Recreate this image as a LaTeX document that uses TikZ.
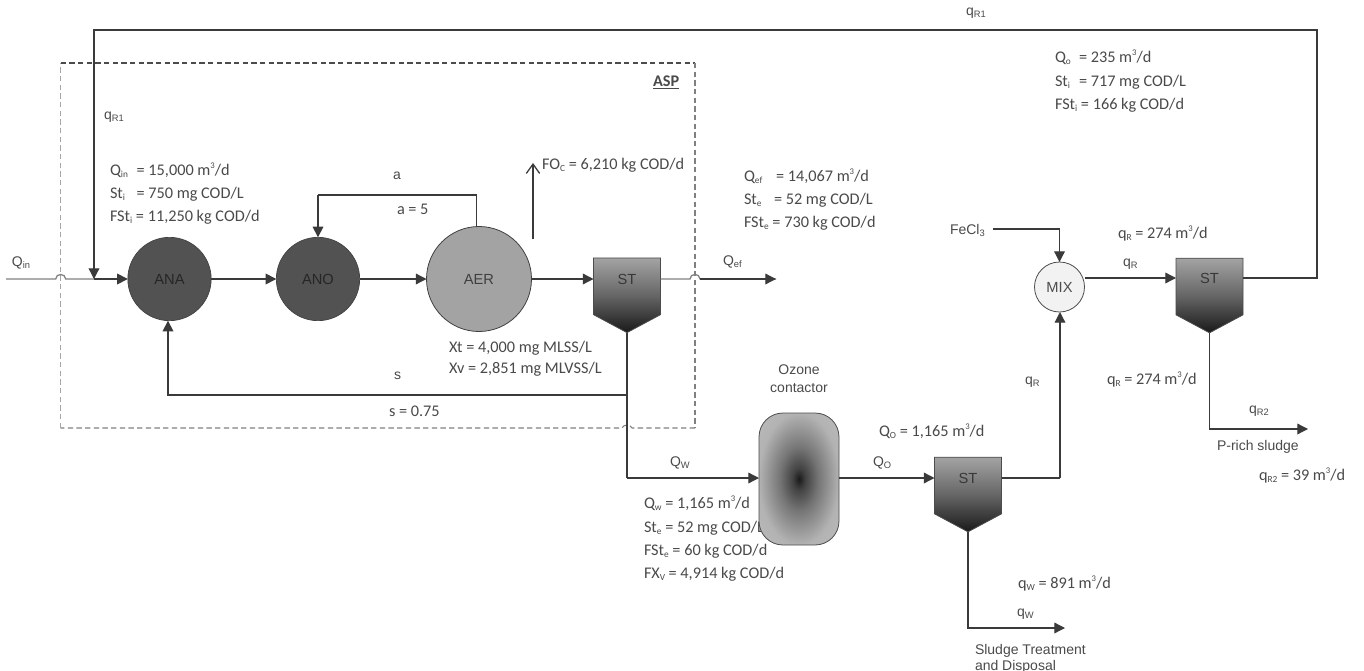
\documentclass[tikz,border=0pt]{standalone}
\usepackage{fontspec}
\setmainfont{Carlito}
\newfontfamily\arialf{Liberation Sans}
\usetikzlibrary{arrows.meta}
\definecolor{ink}{HTML}{3A3A3A}
\definecolor{txt}{HTML}{4A4A4A}
\newcommand{\dn}[1]{\raisebox{-0.3ex}{\fontsize{7}{7}\selectfont #1}}
\newcommand{\upp}[1]{\raisebox{0.85ex}{\fontsize{6.5}{6.5}\selectfont #1}}
\newcommand{\lab}[2]{\makebox[#1][l]{#2}}
\pgfdeclareradialshading{ozoneshade}{\pgfpointorigin}{%
  color(0bp)=(black!90); color(4bp)=(black!74); color(12bp)=(black!54); color(25bp)=(black!30); color(50bp)=(black!22)}
\tikzset{
  line/.style={draw=ink,line width=0.95pt},
  grayline/.style={draw=black!50,line width=0.95pt},
  flow/.style={line,-{Triangle[length=8pt,width=8pt]}},
  openflow/.style={line,-{Straight Barb[length=7pt,width=10pt]}},
  lbl/.style={anchor=base west,inner sep=0pt,outer sep=0pt,text=txt,font=\fontsize{12.2}{14}\selectfont},
  slbl/.style={anchor=base west,inner sep=0pt,outer sep=0pt,text=txt,font=\arialf\fontsize{10.5}{13}\selectfont},
  clbl/.style={slbl,anchor=base},
  ds/.style={anchor=base,inner sep=0pt,text=black!78,font=\arialf\fontsize{11}{13}\selectfont},
  tankdark/.style={circle,draw=black!75,line width=.5pt,fill=black!68,minimum size=62.5pt,inner sep=0pt,outer sep=0pt,text=black!85,font=\arialf\fontsize{11}{13}\selectfont},
  tankaer/.style={circle,draw=black!75,line width=.6pt,fill=black!36,minimum size=78.75pt,inner sep=0pt,outer sep=0pt,text=black!75,font=\arialf\fontsize{11}{13}\selectfont},
  tankmix/.style={circle,draw=black!70,line width=.6pt,fill=black!5,minimum size=37.5pt,inner sep=0pt,outer sep=0pt,text=black!70,font=\arialf\fontsize{11}{13}\selectfont},
  stbox/.style={rectangle,minimum width=50.25pt,minimum height=56pt,inner sep=0pt,outer sep=0pt},
  ozbox/.style={rectangle,minimum width=60pt,minimum height=99pt,inner sep=0pt,outer sep=0pt},
  stshade/.style={draw=black!70,line width=.6pt,top color=black!36,bottom color=black!90,middle color=black!60},
  dashdark/.style={draw=black!70,line width=.8pt,dash pattern=on 4pt off 2.5pt},
  dashlight/.style={draw=black!35,line width=.9pt,dash pattern=on 4pt off 2.5pt},
  dashmid/.style={draw=black!50,line width=.8pt,dash pattern=on 4pt off 2.5pt}
}
\newcommand{\settler}[1]{%
  \path[stshade] (#1.north west) -- (#1.north east) -- ([yshift=13.5pt]#1.south east) -- (#1.south) -- ([yshift=13.5pt]#1.south west) -- cycle;
}
\begin{document}
\begin{tikzpicture}[x=0.75pt,y=-0.75pt]
\useasboundingbox (0,0) rectangle (1364,671);
\fill[white] (0,0) rectangle (1364,671);

% ASP frame
\coordinate (fa) at (60.7,63);
\coordinate (fb) at (695,63);
\coordinate (fc) at (695,428);
\coordinate (fd) at (60.7,428);
\draw[dashdark] (fa) -- (fb);
\draw[dashmid] (fb) -- (fc);
\draw[dashmid] (fc) -- (632,428) .. controls (630,424) and (624,424) .. (622,428) -- (fd);
\draw[dashlight] (fd) -- (fa);

% Units
\node[tankdark] (ana) at (169.5,279) {ANA};
\node[tankdark] (ano) at (318,279) {ANO};
\node[tankaer] (aer) at (479,279) {AER};
\node[tankmix] (mix) at (1059.5,287) {MIX};
\node[stbox] (st1) at (627,295.3) {};
\node[stbox] (st2) at (968,494.5) {};
\node[stbox] (st3) at (1209.5,295.5) {};
\settler{st1}\settler{st2}\settler{st3}
\node[ds] (st1t) at (627,284) {ST};
\node[ds] (st2t) at (968,483) {ST};
\node[ds] (st3t) at (1209.5,283) {ST};

% Free ends and bends
\coordinate (qinstart) at (6,279);
\coordinate (hopa) at (55.7,279);
\coordinate (hopb) at (65.7,279);
\coordinate (j1) at (94,279);
\coordinate (r1) at (1317,278);
\coordinate (r2) at (1317,30);
\coordinate (r3) at (94,30);
\coordinate (aa) at (476.5,195);
\coordinate (ab) at (318,195);
\coordinate (focs) at (533,239);
\coordinate (foce) at (533,163);
\coordinate (efa) at (690,279);
\coordinate (efb) at (700,279);
\coordinate (efe) at (776,279);
\coordinate (sa) at (627,395);
\coordinate (sb) at (168,395);
\coordinate (wa) at (627,478);
\coordinate (oa) at (1060,478);
\coordinate (fe) at (993,229);
\coordinate (fbend) at (1059.5,229);
\coordinate (p1) at (1209.5,429);
\coordinate (p2) at (1308,429);
\coordinate (d1) at (968,628);
\coordinate (d2) at (1065,628);

% Text below the contactor
\node[lbl] (wt1) at (644,508) {Q\dn{w} = 1,165 m\upp{3}/d};
\node[lbl] (wt2) at (644,532) {St\dn{e} = 52 mg COD/L};
\node[lbl] (wt3) at (644,555) {FSt\dn{e} = 60 kg COD/d};
\node[lbl] (wt4) at (644,578) {FX\dn{V} = 4,914 kg COD/d};

% Ozone contactor
\node[ozbox] (oz) at (799,479) {};
\path[shading=ozoneshade,draw=black!70,line width=.6pt]
  ([yshift=-18pt]oz.north west)
  .. controls ([yshift=-8pt]oz.north west) and ([xshift=8pt]oz.north west) .. ([xshift=18pt]oz.north west)
  -- ([xshift=-18pt]oz.north east)
  .. controls ([xshift=-8pt]oz.north east) and ([yshift=-8pt]oz.north east) .. ([yshift=-18pt]oz.north east)
  -- ([yshift=18pt]oz.south east)
  .. controls ([yshift=8pt]oz.south east) and ([xshift=-8pt]oz.south east) .. ([xshift=-18pt]oz.south east)
  -- ([xshift=18pt]oz.south west)
  .. controls ([xshift=8pt]oz.south west) and ([yshift=8pt]oz.south west) .. ([yshift=18pt]oz.south west)
  -- cycle;

% Connectors
\draw[grayline] (qinstart) -- (hopa) .. controls ([yshift=4.5pt]hopa) and ([yshift=4.5pt]hopb) .. (hopb) -- (j1);
\draw[flow] (j1) -- (ana.west);
\draw[flow] (ana.east) -- (ano.west);
\draw[flow] (ano.east) -- (aer.west);
\draw[flow] (aer.east) -- (st1.west |- aer.east);
\draw[flow] (st3.east |- r1) -- (r1) -- (r2) -- (r3) -- (j1);
\draw[line] (aer.north -| aa) -- (aa) -- (ab);
\draw[flow] (ab) -- (ano.north);
\draw[openflow] (focs) -- (foce);
\draw[grayline] (st1.east |- efa) -- (efa) .. controls ([yshift=4.5pt]efa) and ([yshift=4.5pt]efb) .. (efb) -- (efe);
\draw[flow] (efb) -- (efe);
\draw[line] (st1.south) -- (wa);
\draw[flow] (sa) -- (sb) -- (ana.south -| sb);
\draw[flow] (wa) -- (oz.west |- wa);
\draw[flow] (oz.east |- wa) -- (st2.west |- wa);
\draw[line] (st2.east |- wa) -- (oa);
\draw[flow] (oa) -- (mix.south -| oa);
\draw[flow] (fe) -- (fbend) -- (mix.north);
\draw[flow] (mix.east |- r1) -- (st3.west |- r1);
\draw[flow] (st3.south) -- (p1) -- (p2);
\draw[flow] (st2.south) -- (d1) -- (d2);

% Sans labels
\node[slbl] (l1) at (12,266.5) {Q\dn{in}};
\node[slbl] (l2) at (104,119) {q\dn{R1}};
\node[slbl] (l3) at (966,15) {q\dn{R1}};
\node[slbl] (l4) at (393,179) {a};
\node[slbl] (l5) at (394,379) {s};
\node[slbl] (l6) at (723,265) {Q\dn{ef}};
\node[clbl] (l7) at (799,374) {Ozone};
\node[clbl] (l8) at (799,392) {contactor};
\node[slbl] (l9) at (670,466) {Q\dn{W}};
\node[slbl] (l10) at (873,466) {Q\dn{O}};
\node[slbl] (l11) at (1017,616) {q\dn{W}};
\node[slbl] (l12) at (975,654) {Sludge Treatment};
\node[slbl] (l13) at (975,670) {and Disposal};
\node[slbl] (l14) at (950,234) {FeCl\dn{3}};
\node[slbl] (l15) at (1123,266) {q\dn{R}};
\node[slbl] (l16) at (1025,384) {q\dn{R}};
\node[slbl] (l17) at (1249,413) {q\dn{R2}};
\node[slbl] (l18) at (1217,450) {P-rich sludge};

% Data labels
\node[lbl] (t1) at (110,175) {\lab{20pt}{Q\dn{in}}= 15,000 m\upp{3}/d};
\node[lbl] (t2) at (110,198) {\lab{20pt}{St\dn{i}}= 750 mg COD/L};
\node[lbl] (t3) at (110,221) {FSt\dn{i} = 11,250 kg COD/d};
\node[lbl] (t4) at (397,214) {a = 5};
\node[lbl] (t5) at (389,416) {s = 0.75};
\node[lbl,font=\fontsize{12.2}{14}\selectfont\bfseries] (t6) at (653,86) {\underline{ASP}};
\node[lbl] (t7) at (542,169) {FO\dn{C} = 6,210 kg COD/d};
\node[lbl] (t8) at (744,181) {\lab{24pt}{Q\dn{ef}}= 14,067 m\upp{3}/d};
\node[lbl] (t9) at (744,204) {\lab{22.5pt}{St\dn{e}}= 52 mg COD/L};
\node[lbl] (t10) at (744,227) {FSt\dn{e} = 730 kg COD/d};
\node[lbl] (t11) at (449,352) {Xt = 4,000 mg MLSS/L};
\node[lbl] (t12) at (449,373) {Xv = 2,851 mg MLVSS/L};
\node[lbl] (t13) at (879,436) {Q\dn{O} = 1,165 m\upp{3}/d};
\node[lbl] (t14) at (1018,588) {q\dn{W} = 891 m\upp{3}/d};
\node[lbl] (t15) at (1055,62) {\lab{18pt}{Q\dn{o}}= 235 m\upp{3}/d};
\node[lbl] (t16) at (1055,86) {\lab{18pt}{St\dn{i}}= 717 mg COD/L};
\node[lbl] (t17) at (1055,109) {FSt\dn{i} = 166 kg COD/d};
\node[lbl] (t18) at (1118,238) {q\dn{R} = 274 m\upp{3}/d};
\node[lbl] (t19) at (1107,384) {q\dn{R} = 274 m\upp{3}/d};
\node[lbl] (t20) at (1259,480) {q\dn{R2} = 39 m\upp{3}/d};
\end{tikzpicture}
\end{document}
